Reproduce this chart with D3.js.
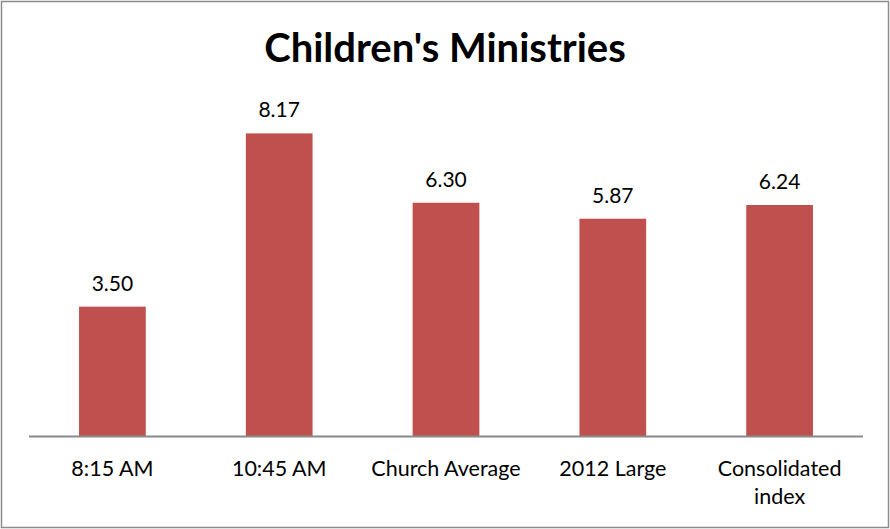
<!DOCTYPE html>
<html><head><meta charset="utf-8">
<script src="https://cdn.jsdelivr.net/npm/d3@7"></script>
<style>body{margin:0;background:#fff;}svg{display:block;font-family:Lato,"Open Sans",sans-serif;}</style>
</head><body>
<svg id="c" width="890" height="529"></svg>
<script>
const categories = ["8:15 AM", "10:45 AM", "Church Average", "2012 Large", "Consolidated index"];
const categoryLines = [["8:15 AM"], ["10:45 AM"], ["Church Average"], ["2012 Large"], ["Consolidated", "index"]];
const values = [3.50, 8.17, 6.30, 5.87, 6.24];
const title = "Children's Ministries";

const svg = d3.select("#c");
svg.append("rect").attr("x",1.5).attr("y",1.5).attr("width",887).attr("height",526)
  .attr("fill","#fff").attr("stroke","#8c8c8c").attr("stroke-width",1.5);

const x = d3.scaleBand().domain(categories).range([29, 863]).paddingInner(0.6).paddingOuter(0.3);
const y = d3.scaleLinear().domain([0, 10]).range([436.5, 65.5]);

svg.append("text").attr("x",445).attr("y",62).attr("text-anchor","middle")
  .attr("font-size",40).attr("font-weight","bold").attr("fill","#000").text(title);

svg.selectAll("rect.bar").data(values).enter().append("rect").attr("class","bar")
  .attr("x",(d,i)=>x(categories[i])).attr("width",x.bandwidth())
  .attr("y",d=>y(d)).attr("height",d=>y(0)-y(d)).attr("fill","#C0504D");

svg.selectAll("text.val").data(values).enter().append("text").attr("class","val")
  .attr("x",(d,i)=>x(categories[i])+x.bandwidth()/2).attr("y",d=>y(d)-16)
  .attr("text-anchor","middle").attr("font-size",21).attr("fill","#000")
  .text(d=>d3.format(".2f")(d));

const axis = d3.axisBottom(x).tickSize(0).tickFormat("");
const ag = svg.append("g").attr("transform",`translate(0,${y(0)})`).call(axis);
ag.select(".domain").attr("stroke","#898989").attr("stroke-width",2).attr("d","M29,0H863");

categories.forEach((c,i)=>{
  const t = svg.append("text").attr("x",x(c)+x.bandwidth()/2).attr("y",476)
    .attr("text-anchor","middle").attr("font-size",21.5).attr("fill","#000");
  categoryLines[i].forEach((ln,j)=>{
    t.append("tspan").attr("x",x(c)+x.bandwidth()/2).attr("dy",j===0?0:28).text(ln);
  });
});
</script>
</body></html>
